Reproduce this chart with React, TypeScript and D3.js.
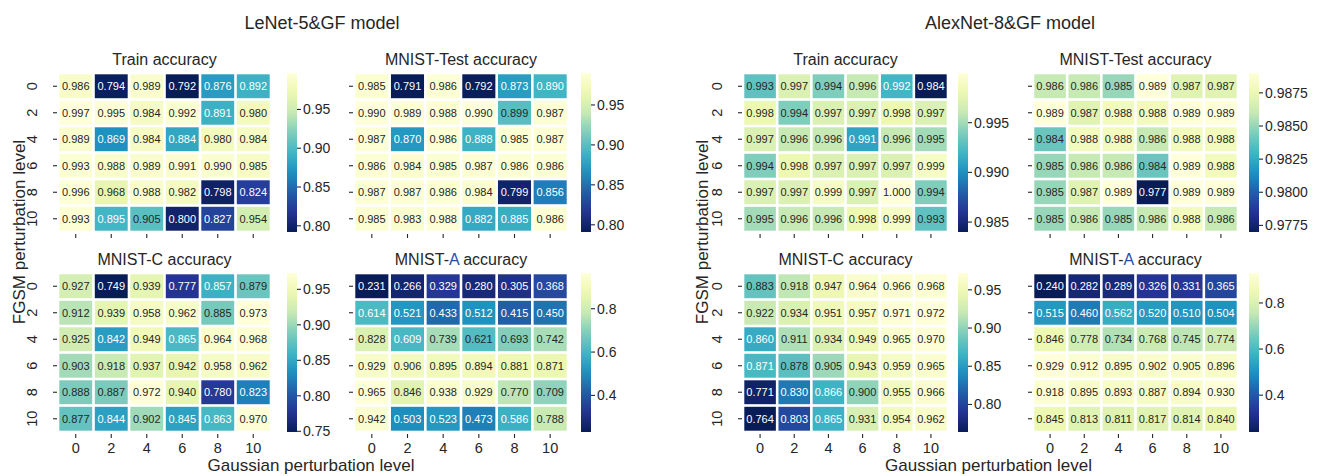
import React from "react";
import * as d3 from "d3";

// perturbation levels (rows = FGSM, cols = Gaussian)
const levels = ["0", "2", "4", "6", "8", "10"];

const lenetTrain = [
  [0.986, 0.794, 0.989, 0.792, 0.876, 0.892],
  [0.997, 0.995, 0.984, 0.992, 0.891, 0.98],
  [0.989, 0.869, 0.984, 0.884, 0.98, 0.984],
  [0.993, 0.988, 0.989, 0.991, 0.99, 0.985],
  [0.996, 0.968, 0.988, 0.982, 0.798, 0.824],
  [0.993, 0.895, 0.905, 0.8, 0.827, 0.954],
];
const lenetTest = [
  [0.985, 0.791, 0.986, 0.792, 0.873, 0.89],
  [0.99, 0.989, 0.988, 0.99, 0.899, 0.987],
  [0.987, 0.87, 0.986, 0.888, 0.985, 0.987],
  [0.986, 0.984, 0.985, 0.987, 0.986, 0.986],
  [0.987, 0.987, 0.986, 0.984, 0.799, 0.856],
  [0.985, 0.983, 0.988, 0.882, 0.885, 0.986],
];
const lenetC = [
  [0.927, 0.749, 0.939, 0.777, 0.857, 0.879],
  [0.912, 0.939, 0.958, 0.962, 0.885, 0.973],
  [0.925, 0.842, 0.949, 0.865, 0.964, 0.968],
  [0.903, 0.918, 0.937, 0.942, 0.958, 0.962],
  [0.888, 0.887, 0.972, 0.94, 0.78, 0.823],
  [0.877, 0.844, 0.902, 0.845, 0.863, 0.97],
];
const lenetA = [
  [0.231, 0.266, 0.329, 0.28, 0.305, 0.368],
  [0.614, 0.521, 0.433, 0.512, 0.415, 0.45],
  [0.828, 0.609, 0.739, 0.621, 0.693, 0.742],
  [0.929, 0.906, 0.895, 0.894, 0.881, 0.871],
  [0.965, 0.846, 0.938, 0.929, 0.77, 0.709],
  [0.942, 0.503, 0.523, 0.473, 0.586, 0.788],
];
const alexTrain = [
  [0.993, 0.997, 0.994, 0.996, 0.992, 0.984],
  [0.998, 0.994, 0.997, 0.997, 0.998, 0.997],
  [0.997, 0.996, 0.996, 0.991, 0.996, 0.995],
  [0.994, 0.998, 0.997, 0.997, 0.997, 0.999],
  [0.997, 0.997, 0.999, 0.997, 1.0, 0.994],
  [0.995, 0.996, 0.996, 0.998, 0.999, 0.993],
];
const alexTest = [
  [0.986, 0.986, 0.985, 0.989, 0.987, 0.987],
  [0.989, 0.987, 0.988, 0.988, 0.989, 0.989],
  [0.984, 0.988, 0.988, 0.986, 0.988, 0.988],
  [0.985, 0.986, 0.986, 0.984, 0.989, 0.988],
  [0.985, 0.987, 0.989, 0.977, 0.989, 0.989],
  [0.985, 0.986, 0.985, 0.986, 0.988, 0.986],
];
const alexC = [
  [0.883, 0.918, 0.947, 0.964, 0.966, 0.968],
  [0.922, 0.934, 0.951, 0.957, 0.971, 0.972],
  [0.86, 0.911, 0.934, 0.949, 0.965, 0.97],
  [0.871, 0.878, 0.905, 0.943, 0.959, 0.965],
  [0.771, 0.83, 0.866, 0.9, 0.955, 0.966],
  [0.764, 0.803, 0.865, 0.931, 0.954, 0.962],
];
const alexA = [
  [0.24, 0.282, 0.289, 0.326, 0.331, 0.365],
  [0.515, 0.46, 0.562, 0.52, 0.51, 0.504],
  [0.846, 0.778, 0.734, 0.768, 0.745, 0.774],
  [0.929, 0.912, 0.895, 0.902, 0.905, 0.896],
  [0.918, 0.895, 0.893, 0.887, 0.894, 0.93],
  [0.845, 0.813, 0.811, 0.817, 0.814, 0.84],
];

// colorbar tick labels
const ticks2 = ["0.80", "0.85", "0.90", "0.95"];
const ticksC = ["0.75", "0.80", "0.85", "0.90", "0.95"];
const ticksA = ["0.4", "0.6", "0.8"];
const ticksAlexTrain = ["0.985", "0.990", "0.995"];
const ticksAlexTest = ["0.9775", "0.9800", "0.9825", "0.9850", "0.9875"];

// matplotlib YlGnBu anchors (linear segments), used reversed
const YLGNBU = [
  "#ffffd9", "#edf8b1", "#c7e9b4", "#7fcdbb", "#41b6c4",
  "#1d91c0", "#225ea8", "#253494", "#081d58",
];

const FONT = "'Liberation Sans', Arial, Helvetica, sans-serif";
const INK = "#262626";

function relLum(c) {
  const { r, g, b } = d3.rgb(c);
  const f = (v) => {
    v = v / 255;
    return v <= 0.03928 ? v / 12.92 : Math.pow((v + 0.055) / 1.055, 2.4);
  };
  return 0.2126 * f(r) + 0.7152 * f(g) + 0.0722 * f(b);
}

function Heatmap({ id, title, values, ticks, x0, x1, y0, y1, cbX, showYLabels, showXLabels }) {
  const [vmin, vmax] = d3.extent(values.flat());
  const t = d3.scaleLinear().domain([vmin, vmax]).range([0, 1]).clamp(true);
  const ylgnbu = d3
    .scaleLinear<string>()
    .domain(YLGNBU.map((_, i) => i / (YLGNBU.length - 1)))
    .range(YLGNBU)
    .interpolate(d3.interpolateRgb);
  // YlGnBu_r : low = dark navy, high = pale yellow
  const cmap = (s) => ylgnbu(1 - s);
  const color = (v) => cmap(t(v));

  const x = d3.scaleBand().domain(levels).range([x0, x1]);
  const y = d3.scaleBand().domain(levels).range([y0, y1]);
  const cb = d3.scaleLinear().domain([vmin, vmax]).range([y1, y0]);
  const fmt = d3.format(".3f");
  const gap = 2.6;
  const cbW = 10;

  return (
    <g>
      <text
        x={(x0 + x1) / 2}
        y={y0 - 8}
        textAnchor="middle"
        fontSize={16}
        fill={INK}
      >
        {title}
      </text>
      {values.map((row, ri) =>
        row.map((v, ci) => {
          const c = color(v);
          const cx = x(levels[ci]);
          const cy = y(levels[ri]);
          return (
            <g key={`${ri}-${ci}`}>
              <rect
                x={cx + gap / 2}
                y={cy + gap / 2}
                width={x.bandwidth() - gap}
                height={y.bandwidth() - gap}
                fill={c}
              />
              <text
                x={cx + x.bandwidth() / 2}
                y={cy + y.bandwidth() / 2}
                textAnchor="middle"
                dominantBaseline="central"
                fontSize={11}
                fill={relLum(c) > 0.408 ? INK : "#ffffff"}
              >
                {fmt(v)}
              </text>
            </g>
          );
        })
      )}
      {/* y ticks */}
      {levels.map((l) => {
        const cy = y(l) + y.bandwidth() / 2;
        return (
          <g key={`y${l}`}>
            <line x1={x0 - 5} x2={x0 - 1} y1={cy} y2={cy} stroke={INK} strokeWidth={1.1} />
            {showYLabels && (
              <text
                transform={`translate(${x0 - 21},${cy}) rotate(-90)`}
                textAnchor="middle"
                fontSize={14.5}
                fill={INK}
              >
                {l}
              </text>
            )}
          </g>
        );
      })}
      {/* x ticks */}
      {levels.map((l) => {
        const cx = x(l) + x.bandwidth() / 2;
        return (
          <g key={`x${l}`}>
            <line x1={cx} x2={cx} y1={y1 + 2} y2={y1 + 6} stroke={INK} strokeWidth={1.1} />
            {showXLabels && (
              <text x={cx} y={y1 + 21} textAnchor="middle" fontSize={14.5} fill={INK}>
                {l}
              </text>
            )}
          </g>
        );
      })}
      {/* colorbar */}
      <defs>
        <linearGradient id={`cb-${id}`} x1="0" y1="1" x2="0" y2="0">
          {d3.range(0, 1.0001, 0.05).map((s) => (
            <stop key={s} offset={s} stopColor={cmap(s)} />
          ))}
        </linearGradient>
      </defs>
      <rect x={cbX} y={y0} width={cbW} height={y1 - y0} fill={`url(#cb-${id})`} />
      {ticks.map((tk) => {
        const ty = cb(+tk);
        return (
          <g key={tk}>
            <line x1={cbX + cbW} x2={cbX + cbW + 4} y1={ty} y2={ty} stroke={INK} strokeWidth={1.1} />
            <text
              x={cbX + cbW + 6}
              y={ty}
              dominantBaseline="central"
              fontSize={14}
              fill={INK}
            >
              {tk}
            </text>
          </g>
        );
      })}
    </g>
  );
}

const aTitle = (
  <>
    MNIST-<tspan fill="#1f4fa8">A</tspan> accuracy
  </>
);

export default function App() {
  const rows = [
    { y0: 73, y1: 232 },
    { y0: 273, y1: 432 },
  ];
  const models = [
    {
      name: "LeNet-5&GF model",
      cx: 322,
      ylabelX: 25,
      cols: [
        { x0: 58, x1: 271, cbX: 287 },
        { x0: 354, x1: 568, cbX: 581 },
      ],
      panels: [
        [
          { title: "Train accuracy", values: lenetTrain, ticks: ticks2 },
          { title: "MNIST-Test accuracy", values: lenetTest, ticks: ticks2 },
        ],
        [
          { title: "MNIST-C accuracy", values: lenetC, ticks: ticksC },
          { title: aTitle, values: lenetA, ticks: ticksA },
        ],
      ],
    },
    {
      name: "AlexNet-8&GF model",
      cx: 1010,
      ylabelX: 708,
      cols: [
        { x0: 743, x1: 948, cbX: 958 },
        { x0: 1033, x1: 1238, cbX: 1249 },
      ],
      panels: [
        [
          { title: "Train accuracy", values: alexTrain, ticks: ticksAlexTrain },
          { title: "MNIST-Test accuracy", values: alexTest, ticks: ticksAlexTest },
        ],
        [
          { title: "MNIST-C accuracy", values: alexC, ticks: ticks2 },
          { title: aTitle, values: alexA, ticks: ticksA },
        ],
      ],
    },
  ];

  return (
    <svg
      width={1324}
      height={476}
      style={{ position: "absolute", left: 0, top: 0, background: "#fff" }}
      fontFamily={FONT}
    >
      <rect width={1324} height={476} fill="#fff" />
      {models.map((m, mi) => {
        const labelCx = (m.cols[0].x0 + m.cols[1].x1) / 2 - 2;
        return (
          <g key={m.name}>
            <text x={m.cx} y={29} textAnchor="middle" fontSize={18} fill={INK}>
              {m.name}
            </text>
            <text x={labelCx} y={471} textAnchor="middle" fontSize={17} fill={INK}>
              Gaussian perturbation level
            </text>
            <text
              transform={`translate(${m.ylabelX},232) rotate(-90)`}
              textAnchor="middle"
              fontSize={17}
              fill={INK}
            >
              FGSM perturbation level
            </text>
            {m.panels.map((row, ri) =>
              row.map((p, ci) => (
                <Heatmap
                  key={`${mi}-${ri}-${ci}`}
                  id={`${mi}-${ri}-${ci}`}
                  title={p.title}
                  values={p.values}
                  ticks={p.ticks}
                  x0={m.cols[ci].x0}
                  x1={m.cols[ci].x1}
                  y0={rows[ri].y0}
                  y1={rows[ri].y1}
                  cbX={m.cols[ci].cbX}
                  showYLabels={ci === 0}
                  showXLabels={ri === 1}
                />
              ))
            )}
          </g>
        );
      })}
    </svg>
  );
}
